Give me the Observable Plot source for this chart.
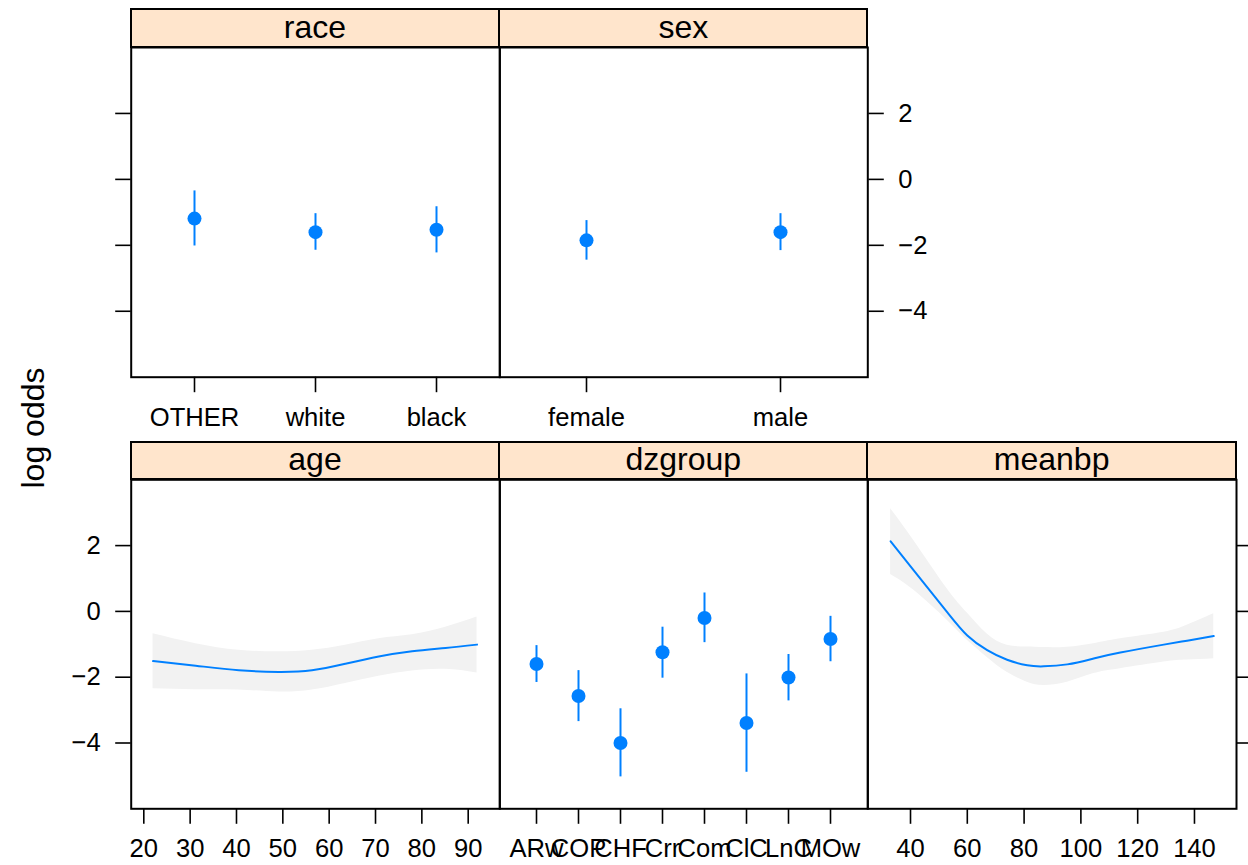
<!DOCTYPE html>
<html>
<head>
<meta charset="utf-8">
<script src="https://cdn.jsdelivr.net/npm/d3@7"></script>
<script src="https://cdn.jsdelivr.net/npm/@observablehq/plot@0.6"></script>
<style>
  body { margin: 0; background: white; }
  #chart { position: relative; width: 1248px; height: 865px; overflow: hidden; font-family: "Liberation Sans", Arial, Helvetica, sans-serif; }
  #chart svg { position: absolute; left: 0; top: 0; }
  .strip { position: absolute; box-sizing: border-box; background: #ffe5cc; border: 2px solid black;
           display: flex; align-items: center; justify-content: center; font-size: 32px; color: black; line-height: 1; padding-bottom: 3px; }
  .ylab { position: absolute; font-size: 32px; white-space: nowrap; transform: translate(-50%, -50%) rotate(-90deg); line-height: 1; }
</style>
</head>
<body>
<div id="chart"></div>
<script>
// ---- data ----
const races = ["OTHER", "white", "black"];
const raceEst = [-1.19, -1.60, -1.53];
const raceLo = [-2.02, -2.15, -2.23];
const raceHi = [-0.35, -1.04, -0.83];

const sexes = ["female", "male"];
const sexEst = [-1.85, -1.60];
const sexLo = [-2.45, -2.16];
const sexHi = [-1.25, -1.04];

const dzLabels = ["ARw", "COP", "CHF", "Crr", "Com", "ClC", "LnC", "MOw"];
const dzEst = [-1.60, -2.57, -4.00, -1.24, -0.20, -3.39, -2.01, -0.84];
const dzLo = [-2.16, -3.35, -5.03, -2.03, -0.95, -4.89, -2.72, -1.53];
const dzHi = [-1.04, -1.80, -2.96, -0.48, 0.56, -1.90, -1.31, -0.15];

const ageX = [22.0, 31.2, 40.5, 49.1, 56.3, 63.5, 70.7, 77.9, 85.1, 91.9];
const ageEst = [-1.51, -1.65, -1.79, -1.84, -1.79, -1.59, -1.37, -1.21, -1.11, -1.01];
const ageLo = [-2.35, -2.38, -2.39, -2.45, -2.39, -2.19, -1.97, -1.81, -1.76, -1.87];
const ageHi = [-0.68, -0.98, -1.18, -1.23, -1.18, -1.03, -0.83, -0.71, -0.48, -0.17];

const bpX = [33.0, 41.2, 52.9, 60.0, 67.0, 74.0, 81.1, 86.9, 95.2, 104.5, 113.9, 129.2, 137.4, 146.8];
const bpEst = [2.13, 1.24, -0.02, -0.73, -1.18, -1.47, -1.64, -1.67, -1.61, -1.43, -1.25, -1.01, -0.89, -0.75];
const bpLo = [1.12, 0.64, -0.27, -0.88, -1.40, -1.85, -2.15, -2.25, -2.15, -1.89, -1.74, -1.54, -1.48, -1.44];
const bpHi = [3.12, 2.15, 0.69, -0.05, -0.69, -1.03, -1.08, -1.10, -1.09, -0.98, -0.83, -0.63, -0.42, -0.07];

const yTicks = [-4, -2, 0, 2];
const ageTicks = [20, 30, 40, 50, 60, 70, 80, 90];
const bpTicks = [40, 60, 80, 100, 120, 140];
const yLabel = "log odds";

// ---- styling ----
const BLUE = "#0080ff";
const BAND = "#f2f2f2";
const W = 1248, H = 865;
const LW = 2;
const TICK = 15.5, PAD = 15;
const CURVE = "natural";

const toRows = (xs, est, lo, hi) => xs.map((x, i) => ({x, est: est[i], lo: lo[i], hi: hi[i]}));

const chart = document.getElementById("chart");

function panel({L, R, T, B, x, marks, noY}) {
  const svg = Plot.plot({
    width: W, height: H,
    marginLeft: L, marginRight: W - R, marginTop: T, marginBottom: H - B,
    x: {...x, label: null},
    y: noY ? {domain: [-6, 4], label: null, axis: null} : {domain: [-6, 4], label: null},
    style: {background: "transparent", overflow: "visible", color: "black",
            fontFamily: "'Liberation Sans', Arial, Helvetica, sans-serif", fontSize: "25.6px"},
    marks: [...marks, Plot.frame({stroke: "black", strokeWidth: LW})]
  });
  chart.appendChild(svg);
}

function strip(L, R, top, bottom, label) {
  const d = document.createElement("div");
  d.className = "strip";
  d.style.left = (L - LW / 2) + "px";
  d.style.top = (top - LW / 2) + "px";
  d.style.width = (R - L + LW) + "px";
  d.style.height = (bottom - top + LW) + "px";
  d.textContent = label;
  chart.appendChild(d);
}

const fmt = d => d3.format("d")(d).replace("-", "\u2212");
const yLeft = (labels) => Plot.axisY(yTicks, {anchor: "left", tickSize: TICK, tickPadding: PAD, strokeWidth: 1.6,
  tickFormat: labels ? fmt : (() => "")});
const yRight = (labels) => Plot.axisY(yTicks, {anchor: "right", tickSize: TICK, tickPadding: PAD, strokeWidth: 1.6,
  tickFormat: labels ? fmt : (() => "")});
const xAxis = (ticks) => ticks
  ? Plot.axisX(ticks, {anchor: "bottom", tickSize: TICK, tickPadding: PAD, strokeWidth: 1.6})
  : Plot.axisX({anchor: "bottom", tickSize: TICK, tickPadding: PAD, strokeWidth: 1.6});

// panel geometry
const c0 = 130.7, c1 = 499.3, c2 = 867.3, c3 = 1236;
const topT = 47, topB = 376.7, topS = 9;
const botT = 479.3, botB = 808.3, botS = 441.7;

// strips
strip(c0, c1, topS, topT, "race");
strip(c1, c2, topS, topT, "sex");
strip(c0, c1, botS, botT, "age");
strip(c1, c2, botS, botT, "dzgroup");
strip(c2, c3, botS, botT, "meanbp");

// race
const raceRows = toRows(races, raceEst, raceLo, raceHi);
panel({L: c0, R: c1, T: topT, B: topB,
  x: {type: "point", domain: races, padding: 0.52},
  marks: [
    Plot.ruleX(raceRows, {x: "x", y1: "lo", y2: "hi", stroke: BLUE, strokeWidth: 2}),
    Plot.dot(raceRows, {x: "x", y: "est", r: 7, fill: BLUE}),
    xAxis(null),
    yLeft(false)
  ]});

// sex
const sexRows = toRows(sexes, sexEst, sexLo, sexHi);
panel({L: c1, R: c2, T: topT, B: topB,
  x: {type: "point", domain: sexes, padding: 0.446},
  marks: [
    Plot.ruleX(sexRows, {x: "x", y1: "lo", y2: "hi", stroke: BLUE, strokeWidth: 2}),
    Plot.dot(sexRows, {x: "x", y: "est", r: 7, fill: BLUE}),
    xAxis(null),
    yRight(true)
  ]});

// age
const ageRows = toRows(ageX, ageEst, ageLo, ageHi);
panel({L: c0, R: c1, T: botT, B: botB,
  x: {type: "linear", domain: [17.28, 96.82]},
  marks: [
    Plot.areaY(ageRows, {x: "x", y1: "lo", y2: "hi", fill: BAND, curve: CURVE}),
    Plot.line(ageRows, {x: "x", y: "est", stroke: BLUE, strokeWidth: 2, curve: CURVE}),
    xAxis(ageTicks),
    yLeft(true)
  ]});

// dzgroup
const dzRows = toRows(dzLabels, dzEst, dzLo, dzHi);
panel({L: c1, R: c2, T: botT, B: botB, noY: true,
  x: {type: "point", domain: dzLabels, padding: 0.866},
  marks: [
    Plot.ruleX(dzRows, {x: "x", y1: "lo", y2: "hi", stroke: BLUE, strokeWidth: 2}),
    Plot.dot(dzRows, {x: "x", y: "est", r: 7, fill: BLUE}),
    xAxis(null)
  ]});

// meanbp
const bpRows = toRows(bpX, bpEst, bpLo, bpHi);
panel({L: c2, R: c3, T: botT, B: botB,
  x: {type: "linear", domain: [24.96, 154.8]},
  marks: [
    Plot.areaY(bpRows, {x: "x", y1: "lo", y2: "hi", fill: BAND, curve: CURVE}),
    Plot.line(bpRows, {x: "x", y: "est", stroke: BLUE, strokeWidth: 2, curve: CURVE}),
    xAxis(bpTicks),
    yRight(false)
  ]});

// y label
const yl = document.createElement("div");
yl.className = "ylab";
yl.style.left = "33px";
yl.style.top = "428px";
yl.textContent = yLabel;
chart.appendChild(yl);
</script>
</body>
</html>
